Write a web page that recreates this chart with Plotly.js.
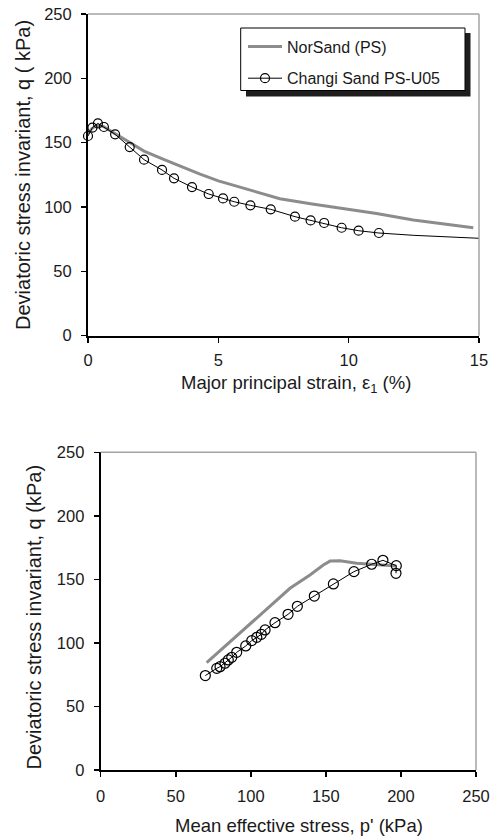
<!DOCTYPE html>
<html>
<head>
<meta charset="utf-8">
<script src="https://cdn.plot.ly/plotly-3.0.1.min.js"></script>
<style>html,body{margin:0;padding:0;background:#fff;}#chart{width:491px;height:836px;}</style>
</head>
<body>
<div id="chart"></div>
<script>
// ---- Top chart: q vs major principal strain ----
const norStrain = [0, 0.15, 0.35, 0.6, 1.0, 1.66, 2.15, 2.9, 3.5, 4.3, 5.0, 6.2, 7.36, 8.6, 9.92, 11.07, 12.48, 13.76, 14.78];
const norQ      = [157, 161, 163.5, 162.5, 157.5, 149.5, 143.5, 137, 132, 125.5, 120.3, 113.5, 106.5, 102.3, 98.2, 95, 89.9, 86.8, 83.9];

const changiStrain = [0, 0.17, 0.38, 0.61, 1.04, 1.6, 2.15, 2.84, 3.3, 3.99, 4.63, 5.18, 5.61, 6.23, 7.01, 7.94, 8.54, 9.06, 9.73, 10.38, 11.16];
const changiQ      = [155.2, 161.7, 165, 162.2, 156.5, 146.6, 136.8, 128.8, 122.3, 115.5, 110.1, 106.7, 104.1, 101.3, 98.2, 92.5, 89.6, 87.6, 83.9, 81.6, 79.8];
const changiTailStrain = [11.16, 12.5, 15];
const changiTailQ      = [79.8, 78.0, 75.7];

// ---- Bottom chart: q vs p' ----
const norP  = [70.6, 85, 102.8, 115, 126.1, 139.4, 148.3, 152.8, 159.4, 170.5, 181.6, 192.7, 197];
const norPq = [84.5, 99.5, 118, 131, 143, 153.5, 161.3, 164.4, 164.7, 162.7, 161.9, 161.3, 160.5];

const changiP  = [196.7, 196.9, 188, 180.5, 168.7, 155, 142.3, 131, 124.8, 116.1, 109.5, 107, 104, 100.6, 96.6, 90.6, 87.3, 85, 82.8, 79.5, 77.3, 69.7];
const changiPq = [154.8, 160.8, 165, 161.9, 156.1, 146.4, 136.9, 128.8, 122.5, 115.9, 110.2, 106.8, 104.4, 101.8, 97.6, 92.6, 88.7, 86.6, 84, 81.3, 80, 74.3];

const xTicksTop = [0, 5, 10, 15];
const yTicks = [0, 50, 100, 150, 200, 250];
const xTicksBottom = [0, 50, 100, 150, 200, 250];

const seriesNames = ['NorSand (PS)', 'Changi Sand PS-U05'];
const titles = {
  topX: 'Major principal strain, ε<sub>1</sub> (%)',
  topY: 'Deviatoric stress invariant, q ( kPa)',
  botX: "Mean effective stress, p' (kPa)",
  botY: 'Deviatoric stress invariant, q (kPa)'
};

const W = 491, H = 836;
const px = v => v / W;
const py = v => 1 - v / H;

const FONT = 'Liberation Sans, Arial, sans-serif';
const TXT = '#1a1a1a';
const GRAY = '#8c8c8c';

const traces = [
  {x: norStrain, y: norQ, type: 'scatter', mode: 'lines', name: seriesNames[0],
   line: {color: GRAY, width: 3}, xaxis: 'x', yaxis: 'y', legendgroup: 'a', cliponaxis: false},
  {x: changiStrain, y: changiQ, type: 'scatter', mode: 'lines+markers', name: seriesNames[1],
   line: {color: '#000', width: 1}, marker: {symbol: 'circle-open', size: 9, color: '#000', line: {width: 1.2, color: '#000'}},
   xaxis: 'x', yaxis: 'y', legendgroup: 'b', cliponaxis: false},
  {x: changiTailStrain, y: changiTailQ, type: 'scatter', mode: 'lines', showlegend: false,
   line: {color: '#000', width: 1}, xaxis: 'x', yaxis: 'y', cliponaxis: false},
  {x: norP, y: norPq, type: 'scatter', mode: 'lines', showlegend: false,
   line: {color: GRAY, width: 3}, xaxis: 'x2', yaxis: 'y2'},
  {x: changiP, y: changiPq, type: 'scatter', mode: 'lines+markers', showlegend: false,
   line: {color: '#000', width: 1}, marker: {symbol: 'circle-open', size: 10, color: '#000', line: {width: 1.2, color: '#000'}},
   xaxis: 'x2', yaxis: 'y2', cliponaxis: false}
];

const axisBase = {
  showgrid: false, zeroline: false, showline: true, linecolor: '#000', linewidth: 2,
  ticks: 'outside', ticklen: 5, tickwidth: 1.5, tickcolor: '#000',
  tickfont: {family: FONT, size: 16.5, color: TXT}, fixedrange: true
};

const grayBorder = (xr, yr) => ([
  {type: 'line', xref: xr + ' domain', yref: yr + ' domain', x0: 0, x1: 1, y0: 1, y1: 1, line: {color: '#a3a3a3', width: 1.5}},
  {type: 'line', xref: xr + ' domain', yref: yr + ' domain', x0: 1, x1: 1, y0: 0, y1: 1, line: {color: '#a3a3a3', width: 1.5}}
]);

const layout = {
  width: W, height: H,
  margin: {l: 0, r: 0, t: 0, b: 0},
  paper_bgcolor: '#fff', plot_bgcolor: '#fff',
  font: {family: FONT, color: TXT},
  xaxis: Object.assign({}, axisBase, {domain: [px(88), px(479)], range: [0, 15], tickvals: xTicksTop, anchor: 'y', ticklabelstandoff: 3}),
  yaxis: Object.assign({}, axisBase, {domain: [py(335.7), py(14)], range: [0, 250], tickvals: yTicks, anchor: 'x', ticklabelstandoff: 6}),
  xaxis2: Object.assign({}, axisBase, {domain: [px(100.7), px(476)], range: [0, 250], tickvals: xTicksBottom, anchor: 'y2', ticklabelstandoff: 5}),
  yaxis2: Object.assign({}, axisBase, {domain: [py(770), py(452.3)], range: [0, 250], tickvals: yTicks, anchor: 'x2', ticklabelstandoff: 6}),
  showlegend: true,
  legend: {
    x: px(243), y: py(29.5), xanchor: 'left', yanchor: 'top',
    bgcolor: 'rgba(0,0,0,0)', borderwidth: 0,
    font: {family: FONT, size: 16, color: TXT},
    traceorder: 'grouped', tracegroupgap: 8, itemwidth: 34
  },
  shapes: [
    ...grayBorder('x', 'y'),
    ...grayBorder('x2', 'y2'),
    {type: 'rect', xref: 'paper', yref: 'paper', x0: px(246), x1: px(470.5), y0: py(96.5), y1: py(33), fillcolor: '#1e1e1e', line: {width: 0}, layer: 'above'},
    {type: 'rect', xref: 'paper', yref: 'paper', x0: px(240.7), x1: px(465), y0: py(90.5), y1: py(28), fillcolor: '#fff', line: {color: '#000', width: 1}, layer: 'above'}
  ],
  annotations: [
    {text: titles.topX, xref: 'paper', yref: 'paper', x: px(296), y: py(384), showarrow: false, xanchor: 'center', yanchor: 'middle', font: {family: FONT, size: 18.5, color: TXT}},
    {text: titles.topY, xref: 'paper', yref: 'paper', x: px(23), y: py(175), showarrow: false, textangle: -90, xanchor: 'center', yanchor: 'middle', font: {family: FONT, size: 20, color: TXT}},
    {text: titles.botX, xref: 'paper', yref: 'paper', x: px(299), y: py(825), showarrow: false, xanchor: 'center', yanchor: 'middle', font: {family: FONT, size: 18.5, color: TXT}},
    {text: titles.botY, xref: 'paper', yref: 'paper', x: px(33), y: py(617.5), showarrow: false, textangle: -90, xanchor: 'center', yanchor: 'middle', font: {family: FONT, size: 20, color: TXT}}
  ]
};

Plotly.newPlot('chart', traces, layout, {displayModeBar: false, staticPlot: true});
</script>
</body>
</html>
